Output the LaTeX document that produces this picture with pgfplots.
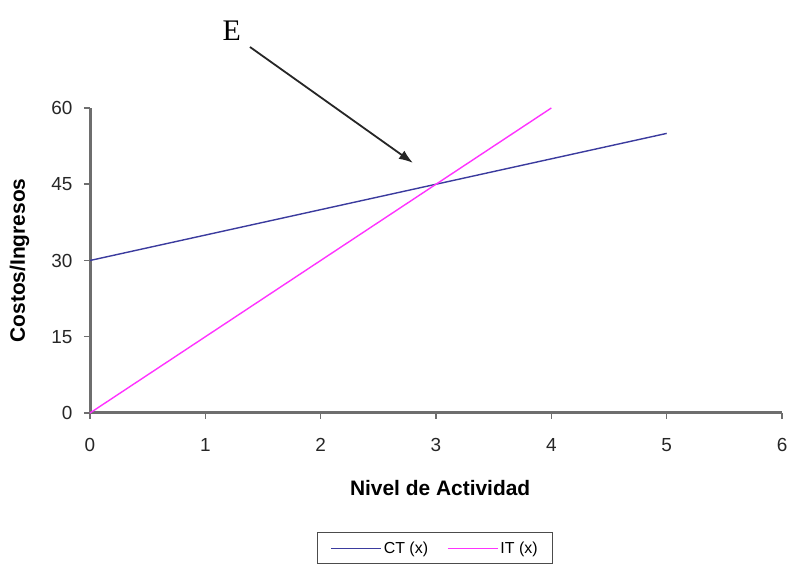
\documentclass[border=0pt]{standalone}
\usepackage{pgfplots}
\pgfplotsset{compat=1.18}
\usetikzlibrary{arrows.meta}
\usepackage{fontspec}
\setmainfont{Liberation Sans}
\newfontfamily\seriffont{Liberation Serif}
\definecolor{ctcol}{HTML}{3B3B9E}
\definecolor{itcol}{HTML}{FF33FF}
\definecolor{axcol}{HTML}{6E6E6E}
\begin{document}
\begin{tikzpicture}[x=1bp,y=1bp]
\useasboundingbox (0,0) rectangle (789,569);
\begin{axis}[
  at={(90bp,156bp)}, anchor=south west,
  scale only axis,
  width=692bp, height=305bp,
  xmin=0, xmax=6, ymin=0, ymax=60,
  xtick={0,1,2,3,4,5,6},
  ytick={0,15,30,45,60},
  axis x line=bottom, axis y line=left,
  axis line style={-, axcol, line width=3bp},
  every outer x axis line/.append style={-, axcol, line width=3bp},
  every outer y axis line/.append style={-, axcol, line width=3bp},
  tick align=outside,
  major tick length=6bp,
  tick style={axcol, line width=1.5bp},
  /pgf/number format/assume math mode=true,
  tick label style={font=\fontsize{19}{21}\selectfont, text=black!85},
  xticklabel style={yshift=-16bp},
  yticklabel style={xshift=-8bp},
  xlabel={\textbf{Nivel de Actividad}},
  ylabel={\textbf{Costos/Ingresos}},
  label style={font=\fontsize{21}{23}\selectfont},
  xlabel style={at={(axis description cs:0.506,-0.245)}, anchor=center},
  ylabel style={at={(axis description cs:-0.102,0.5)}, anchor=center, rotate=0},
  clip=false,
  legend style={at={(axis description cs:0.4986,-0.39)}, anchor=north,
    legend columns=2, draw=black!70, line width=1.5bp,
    font=\fontsize{16}{18}\selectfont,
    /tikz/every even column/.append style={column sep=17bp},
    inner xsep=13bp, inner ysep=7bp},
  legend image code/.code={\draw[#1, line width=1.4bp] (0bp,0bp) -- (50bp,0bp);},
  legend cell align=left,
]
\addplot[ctcol, line width=1.4bp] coordinates {(0,30) (1,35) (2,40) (3,45) (4,50) (5,55)};
\addlegendentry{CT (x)}
\addplot[itcol, line width=1.4bp] coordinates {(0,0) (1,15) (2,30) (3,45) (4,60)};
\addlegendentry{IT (x)}
\draw[-{Latex[length=14bp,width=10bp]}, line width=1.8bp, black!85] (axis cs:1.387,72.0) -- (axis cs:2.80,49.2);
\node[font=\seriffont\fontsize{30}{32}\selectfont] at (axis cs:1.23,75.2) {E};
\end{axis}
\end{tikzpicture}
\end{document}
